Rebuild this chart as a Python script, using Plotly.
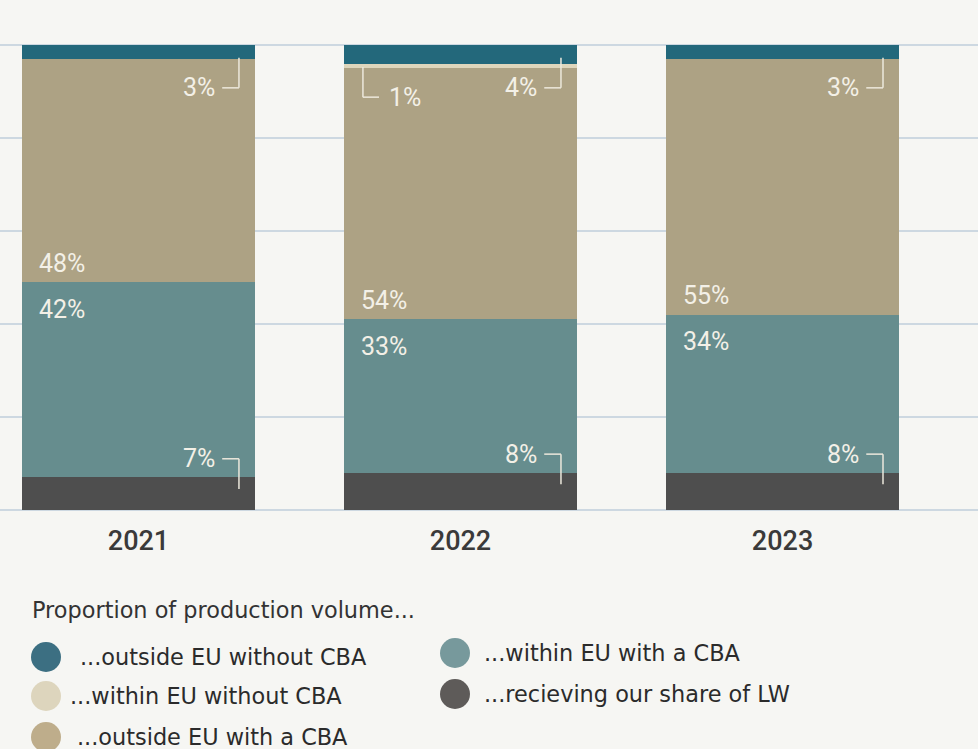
import plotly.graph_objects as go

# ---------------- data ----------------
years = ["2021", "2022", "2023"]
lw_share = [7, 8, 8]                 # ...recieving our share of LW
within_eu_cba = [42, 33, 34]         # ...within EU with a CBA
outside_eu_cba = [48, 54, 55]        # ...outside EU with a CBA
within_eu_no_cba = [0, 1, 0]         # ...within EU without CBA
outside_eu_no_cba = [3, 4, 3]        # ...outside EU without CBA

legend_title = "Proportion of production volume..."
names = {
    "out_no": "...outside EU without CBA",
    "in_no": "...within EU without CBA",
    "out_cba": "...outside EU with a CBA",
    "in_cba": "...within EU with a CBA",
    "lw": "...recieving our share of LW",
}

# ---------------- style ----------------
BG = "#f6f6f3"
GRID = "#cdd8e1"
bar_col = {"lw": "#4e4e4e", "in_cba": "#668d8e", "out_cba": "#ada284",
           "in_no": "#ded6bc", "out_no": "#23687b"}
leg_col = {"lw": "#5e5b59", "in_cba": "#77999c", "out_cba": "#bead8b",
           "in_no": "#ddd5bd", "out_no": "#3c6f82"}
LABEL = "#f3f0e7"
BRACKET = "#ece8dc"
FONT = "Roboto"
LEG_FONT = "DejaVu Sans"
W = 0.724
x = list(range(len(years)))

fig = go.Figure()
stack = [("lw", lw_share), ("in_cba", within_eu_cba), ("out_cba", outside_eu_cba),
         ("in_no", within_eu_no_cba), ("out_no", outside_eu_no_cba)]
for key, vals in stack:
    fig.add_trace(go.Bar(x=x, y=vals, width=W, name=names[key],
                         marker=dict(color=bar_col[key], line=dict(width=0)),
                         showlegend=False, hoverinfo="skip"))

annotations = []
shapes = []

def lab(xv, yv, text, xanchor, yshift=0):
    annotations.append(dict(x=xv, y=yv, xref="x", yref="y", text=text,
                            showarrow=False, xanchor=xanchor, yanchor="middle",
                            yshift=yshift,
                            font=dict(family=FONT, size=25, color=LABEL)))

def line(x0, y0, x1, y1):
    shapes.append(dict(type="line", xref="x", yref="y", x0=x0, y0=y0, x1=x1, y1=y1,
                       line=dict(color=BRACKET, width=1.5), layer="above"))

for i in x:
    left = i - W / 2
    right = i + W / 2
    lw = lw_share[i]
    b_in = lw + within_eu_cba[i]
    b_out = b_in + outside_eu_cba[i]
    total = b_out + within_eu_no_cba[i] + outside_eu_no_cba[i]
    # big labels around the teal / tan boundary
    lab(left + 0.046, b_in, f"{outside_eu_cba[i]}%", "left", yshift=19)
    lab(left + 0.046, b_in, f"{within_eu_cba[i]}%", "left", yshift=-27)
    # bottom bracket (LW share)
    ly = lw + 4.0
    lab(right - 0.118, ly, f"{lw}%", "right")
    line(right - 0.102, ly, right - 0.05, ly)
    line(right - 0.05, ly, right - 0.05, ly - 6.5)
    # top bracket (outside EU without CBA)
    ty = total - 9.2
    lab(right - 0.118, ty, f"{outside_eu_no_cba[i]}%", "right")
    line(right - 0.102, ty, right - 0.05, ty)
    line(right - 0.05, ty, right - 0.05, ty + 6.5)
    # left bracket (within EU without CBA), only when present
    if within_eu_no_cba[i] > 0:
        cy = b_out - 6.2
        lab(left + 0.135, cy, f"{within_eu_no_cba[i]}%", "left")
        line(left + 0.059, cy, left + 0.109, cy)
        line(left + 0.059, cy, left + 0.059, cy + 6.5)

# ---------------- custom legend ----------------
M_TOP, M_BOT = 43, 237
H_TOP, H_BOT = M_TOP, 749 - M_BOT
def py(pix):
    return (H_BOT - pix) / (H_BOT - H_TOP)
def px(pix):
    return pix / 978

annotations.append(dict(x=px(30), y=py(610), xref="paper", yref="paper",
                        text=legend_title, showarrow=False, xanchor="left",
                        yanchor="middle", font=dict(family=LEG_FONT, size=22.4, color="#333333")))
legend_items = [("out_no", 46, 657, 78), ("in_no", 46, 696, 68), ("out_cba", 46, 737, 75),
                ("in_cba", 455, 653, 482), ("lw", 455, 694, 482)]
for key, cx, cy, tx in legend_items:
    shapes.append(dict(type="circle", xref="paper", yref="paper",
                       xsizemode="pixel", ysizemode="pixel",
                       xanchor=px(cx), yanchor=py(cy),
                       x0=-15, x1=15, y0=-15, y1=15,
                       fillcolor=leg_col[key], line=dict(width=0)))
    annotations.append(dict(x=px(tx), y=py(cy), xref="paper", yref="paper",
                            text=names[key], showarrow=False, xanchor="left",
                            yanchor="middle",
                            font=dict(family=LEG_FONT, size=22.4, color="#2b2b2b")))

fig.update_layout(
    width=978, height=749,
    margin=dict(l=0, r=0, t=M_TOP, b=M_BOT),
    paper_bgcolor=BG, plot_bgcolor=BG,
    barmode="stack",
    showlegend=False,
    annotations=annotations,
    shapes=shapes,
    xaxis=dict(range=[-0.430, 2.607], tickvals=x, ticktext=years,
               showgrid=False, zeroline=False, showline=False, ticks="",
               ticklabelstandoff=10,
               tickfont=dict(family=FONT, size=27, color="#3a3a3a", weight=500)),
    yaxis=dict(range=[-0.45, 100.45], tickvals=[0, 20, 40, 60, 80, 100],
               showticklabels=False, showgrid=True,
               gridcolor=GRID, gridwidth=2, zeroline=False, showline=False),
)

fig.write_html(
    "out.html",
    config={"displayModeBar": False},
    post_script="document.body.style.margin='0';document.body.style.overflow='hidden';"
                "document.body.style.background='" + BG + "';",
)
